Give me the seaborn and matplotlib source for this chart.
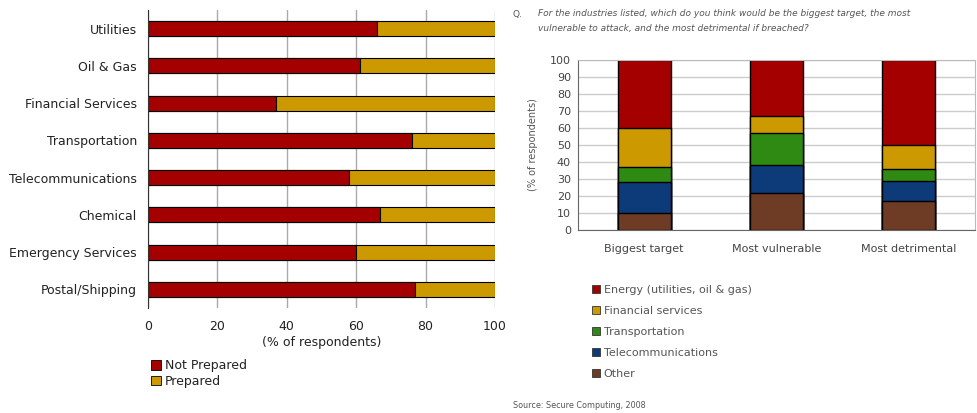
import matplotlib
matplotlib.use('Agg')
import matplotlib.pyplot as plt
import seaborn as sns
import numpy as np
from matplotlib.patches import Patch

# 数据 - left chart
industries = ['Utilities', 'Oil & Gas', 'Financial Services', 'Transportation',
              'Telecommunications', 'Chemical', 'Emergency Services', 'Postal/Shipping']
not_prepared = [66, 61, 37, 76, 58, 67, 60, 77]
prepared = [34, 39, 63, 24, 42, 33, 40, 23]

# 数据 - right chart (stack order from bottom)
targets = ['Biggest target', 'Most vulnerable', 'Most detrimental']
other = [10, 22, 17]
telecom = [18, 16, 12]
transport = [9, 19, 7]
financial = [23, 10, 14]
energy = [40, 33, 50]

sns.set_style('white')
plt.rcParams['font.family'] = ['DejaVu Sans']

red = '#A50000'
gold = '#CC9A00'
green = '#2E8A12'
blue = '#0D3A78'
brown = '#6E3B25'

fig = plt.figure(figsize=(9.78, 4.13), dpi=100)

# ---------------- left chart ----------------
ax1 = fig.add_axes([148/978, 1-308/413, 347/978, 298/413])
total = np.array(not_prepared) + np.array(prepared)
sns.barplot(x=total, y=industries, color=gold, width=0.4, edgecolor='black',
            linewidth=0.8, ax=ax1, orient='h', saturation=1)
sns.barplot(x=not_prepared, y=industries, color=red, width=0.4, edgecolor='black',
            linewidth=0.8, ax=ax1, orient='h', saturation=1)
ax1.set_xlim(0, 100)
ax1.set_ylim(7.5, -0.5)
ax1.set_xticks([0, 20, 40, 60, 80, 100])
ax1.xaxis.grid(True, color='#aaaaaa', linewidth=1)
ax1.set_axisbelow(True)
for s in ['top', 'right', 'bottom']:
    ax1.spines[s].set_visible(False)
ax1.spines['left'].set_color('#333333')
ax1.tick_params(axis='x', length=0, labelsize=9, pad=9, colors='#222222')
ax1.tick_params(axis='y', which='major', length=0, labelsize=9, pad=8, colors='#222222')
ax1.set_yticks(np.arange(-0.5, 8, 1), minor=True)
ax1.tick_params(axis='y', which='minor', length=4, color='#333333')
ax1.set_xlabel('(% of respondents)', fontsize=9, color='#222222', labelpad=2)
ax1.set_ylabel('')

fig.legend(handles=[Patch(facecolor=red, edgecolor='black', linewidth=0.6, label='Not Prepared'),
                    Patch(facecolor=gold, edgecolor='black', linewidth=0.6, label='Prepared')],
           loc='upper left', bbox_to_anchor=(145/978, 1-353/413), frameon=False,
           fontsize=9, handlelength=0.8, handleheight=0.8, handletextpad=0.3,
           labelspacing=0.2, borderpad=0, labelcolor='#222222')

# ---------------- right chart ----------------
ax2 = fig.add_axes([578/978, 1-230/413, 397/978, 170/413])
layers = [other, telecom, transport, financial, energy]
colors = [brown, blue, green, gold, red]
cum = np.cumsum(np.array(layers), axis=0)
for i in range(len(layers) - 1, -1, -1):
    sns.barplot(x=targets, y=cum[i], color=colors[i], width=0.4, edgecolor='black',
                linewidth=1, ax=ax2, saturation=1)
ax2.set_xlim(-0.5, 2.5)
ax2.set_ylim(0, 100)
ax2.set_yticks(range(0, 101, 10))
ax2.yaxis.grid(True, color='#cccccc', linewidth=1)
ax2.set_axisbelow(True)
for s in ['left', 'bottom']:
    ax2.spines[s].set_color('#666666')
for s in ['top', 'right']:
    ax2.spines[s].set_color('#bbbbbb')
ax2.tick_params(axis='y', length=3, width=0.8, color='#666666', labelsize=8, colors='#444444', pad=2)
ax2.tick_params(axis='x', length=0, labelsize=8, colors='#444444', pad=10)
ax2.set_ylabel('(% of respondents)', fontsize=7, color='#555555', labelpad=9)
ax2.set_xlabel('')

fig.text(513/978, 1-14/413, 'Q.', fontsize=6.5, color='#555555', va='center')
fig.text(538/978, 1-14/413, 'For the industries listed, which do you think would be the biggest target, the most',
         fontsize=6.5, style='italic', color='#555555', va='center')
fig.text(538/978, 1-29/413, 'vulnerable to attack, and the most detrimental if breached?',
         fontsize=6.5, style='italic', color='#555555', va='center')

legend_labels = ['Energy (utilities, oil & gas)', 'Financial services', 'Transportation',
                 'Telecommunications', 'Other']
legend_colors = [red, gold, green, blue, brown]
fig.legend(handles=[Patch(facecolor=c, edgecolor='#333333', linewidth=0.6, label=l)
                    for c, l in zip(legend_colors, legend_labels)],
           loc='upper left', bbox_to_anchor=(586/978, 1-279/413), frameon=False,
           fontsize=8, handlelength=0.8, handleheight=0.8, handletextpad=0.3,
           labelspacing=0.99, borderpad=0, labelcolor='#555555')

fig.text(513/978, 1-406/413, 'Source: Secure Computing, 2008', fontsize=5.8, color='#555555', va='center')

plt.savefig('out.png', dpi=100)
